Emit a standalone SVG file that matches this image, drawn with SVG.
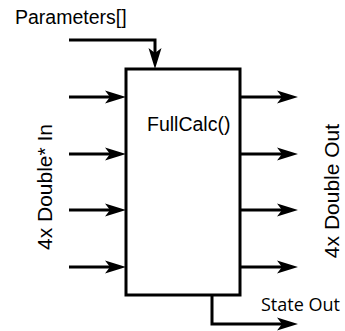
<svg xmlns="http://www.w3.org/2000/svg" width="345" height="331" viewBox="0 0 345 331">
<style>
.ln{fill:none;stroke:#000;stroke-width:3;stroke-linejoin:miter}
.t{font-family:"Liberation Sans",Arial,sans-serif;font-size:19.5px;fill:#000}
.r{font-family:"Liberation Sans",Arial,sans-serif;font-size:21px;fill:#000}
.s{font-family:"Open Sans","Segoe UI",sans-serif;font-size:18px;fill:#000}
</style>
<defs>
<marker id="ah" markerUnits="userSpaceOnUse" viewBox="0 -7 22 14" refX="5" refY="0" markerWidth="22" markerHeight="14" orient="auto">
<path d="M0,-6.5 L21,0 L0,6.5 L5,0 Z" fill="#000"/>
</marker>
</defs>
<rect width="345" height="331" fill="#fff"/>
<g id="node-fullcalc">
<rect x="126" y="69" width="114" height="226" class="ln"/>
<text class="t" x="147" y="131">FullCalc()</text>
</g>
<g id="label-params"><text class="t" x="15" y="24">Parameters[]</text></g>
<g id="label-in"><text class="r" text-anchor="middle" transform="translate(52,187) rotate(-90)">4x Double* In</text></g>
<g id="label-out"><text class="r" text-anchor="middle" transform="translate(339,191) rotate(-90)">4x Double Out</text></g>
<g id="label-state"><text class="s" x="261" y="311">State Out</text></g>
<g id="connectors">
<path class="ln" d="M69,40 H155 V53" marker-end="url(#ah)"/>
<path class="ln" d="M69,97 H110" marker-end="url(#ah)"/>
<path class="ln" d="M69,154 H110" marker-end="url(#ah)"/>
<path class="ln" d="M69,210 H110" marker-end="url(#ah)"/>
<path class="ln" d="M69,267 H110" marker-end="url(#ah)"/>
<path class="ln" d="M241,97 H282" marker-end="url(#ah)"/>
<path class="ln" d="M241,154 H282" marker-end="url(#ah)"/>
<path class="ln" d="M241,210 H282" marker-end="url(#ah)"/>
<path class="ln" d="M241,267 H282" marker-end="url(#ah)"/>
<path class="ln" d="M212,295 V324 H282" marker-end="url(#ah)"/>
</g>
</svg>
